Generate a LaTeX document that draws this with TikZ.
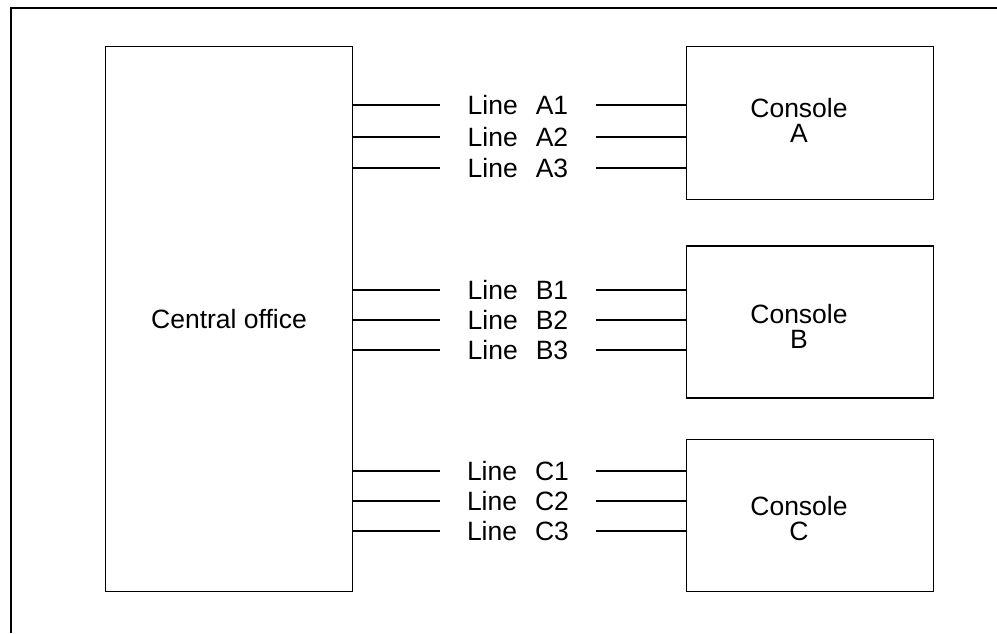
\documentclass[tikz,border=0pt]{standalone}
\usepackage{fontspec}
\setmainfont{Liberation Sans}
\begin{document}
\begin{tikzpicture}[x=1pt,y=-1pt,
  box/.style={draw, line width=1.3pt, inner sep=0pt},
  wire/.style={line width=1.8pt},
  frame/.style={line width=1.4pt},
  lbl/.style={inner sep=0pt, minimum width=156pt, font=\fontsize{26.5}{25}\selectfont},
  ctxt/.style={align=center, inner sep=0pt, font=\fontsize{26.5}{25}\selectfont}]
\useasboundingbox (0,0) rectangle (997,633);
% outer frame
\coordinate (ftr) at (997,8);
\coordinate (ftl) at (11,8);
\coordinate (fbl) at (11,633);
\draw[frame] (ftr) -- (ftl) -- (fbl);
% boxes
\node[box, minimum width=247pt, minimum height=545pt, font=\fontsize{26.5}{25}\selectfont] (co) at (229,319) {Central office};
\node[box, minimum width=247pt, minimum height=153pt] (ca) at (810,123) {};
\node[box, minimum width=247pt, minimum height=152pt] (cb) at (810,322) {};
\node[box, minimum width=247pt, minimum height=152pt] (cc) at (810,515.5) {};
\node[ctxt] (ta) at (799,120.5) {Console\\A};
\node[ctxt] (tb) at (799,326) {Console\\B};
\node[ctxt] (tc) at (799,519) {Console\\C};
% line labels
\node[lbl] (la1) at (518,105) {Line\hspace{18pt}A1};
\node[lbl] (la2) at (518,137) {Line\hspace{18pt}A2};
\node[lbl] (la3) at (518,168) {Line\hspace{18pt}A3};
\node[lbl] (lb1) at (518,290) {Line\hspace{18pt}B1};
\node[lbl] (lb2) at (518,320) {Line\hspace{18pt}B2};
\node[lbl] (lb3) at (518,350) {Line\hspace{18pt}B3};
\node[lbl] (lc1) at (518,471) {Line\hspace{18pt}C1};
\node[lbl] (lc2) at (518,501) {Line\hspace{18pt}C2};
\node[lbl] (lc3) at (518,531) {Line\hspace{18pt}C3};
% wires
\foreach \l/\c in {la1/ca,la2/ca,la3/ca,lb1/cb,lb2/cb,lb3/cb,lc1/cc,lc2/cc,lc3/cc}{
  \draw[wire] (\l.west -| co.east) -- (\l.west);
  \draw[wire] (\l.east) -- (\l.east -| \c.west);
}
\end{tikzpicture}
\end{document}
